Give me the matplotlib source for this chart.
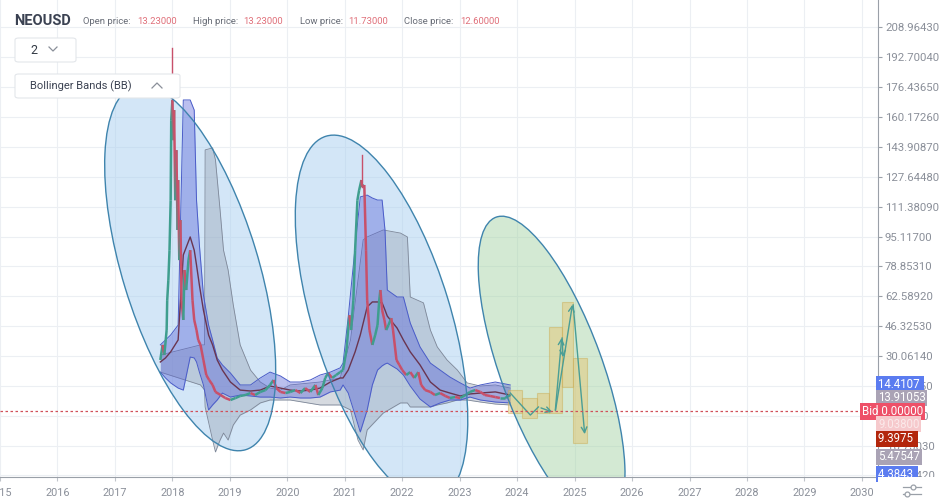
import matplotlib
matplotlib.use('Agg')
import matplotlib.pyplot as plt
from matplotlib.patches import Ellipse, Rectangle, FancyBboxPatch
from matplotlib.collections import LineCollection
from matplotlib.transforms import ScaledTranslation, blended_transform_factory
from matplotlib.lines import Line2D

plt.rcParams['font.family'] = ['Roboto', 'DejaVu Sans']

# --- price history (fractional year, close) ---
dates = [2017.79, 2017.83, 2017.86, 2017.90, 2017.91, 2017.93, 2017.95, 2017.97, 2017.98, 2018.00,
         2018.02, 2018.03, 2018.05, 2018.07, 2018.09, 2018.10, 2018.12, 2018.14, 2018.16, 2018.19,
         2018.21, 2018.24, 2018.28, 2018.31, 2018.35, 2018.38, 2018.42, 2018.45, 2018.49, 2018.54,
         2018.59, 2018.64, 2018.70, 2018.75, 2018.84, 2018.92, 2019.01, 2019.10, 2019.18, 2019.27,
         2019.36, 2019.44, 2019.53, 2019.62, 2019.70, 2019.76, 2019.81, 2019.88, 2019.97, 2020.05,
         2020.14, 2020.23, 2020.31, 2020.40, 2020.49, 2020.54, 2020.61, 2020.66, 2020.71, 2020.78,
         2020.85, 2020.92, 2020.97, 2021.03, 2021.08, 2021.11, 2021.15, 2021.18, 2021.22, 2021.25,
         2021.29, 2021.30, 2021.34, 2021.37, 2021.39, 2021.43, 2021.48, 2021.53, 2021.57, 2021.60,
         2021.62, 2021.65, 2021.69, 2021.72, 2021.76, 2021.81, 2021.84, 2021.90, 2021.95, 2022.00,
         2022.07, 2022.14, 2022.21, 2022.28, 2022.33, 2022.40, 2022.49, 2022.57, 2022.66, 2022.75,
         2022.83, 2022.92, 2023.01, 2023.10, 2023.18, 2023.27, 2023.36, 2023.44, 2023.53, 2023.62,
         2023.70, 2023.79, 2023.88]
close = [27.9, 36.1, 30.6, 44.2, 60.5, 71.4, 87.7, 114.9, 158.5, 169.4,
         147.6, 164.0, 114.9, 142.2, 98.7, 125.9, 82.3, 104.1, 60.5, 49.7,
         76.9, 66.0, 82.3, 87.7, 60.5, 49.7, 44.2, 38.8, 36.1, 27.9,
         19.7, 17.0, 14.3, 10.5, 8.8, 7.2, 6.1, 7.2, 8.3, 8.8,
         9.9, 8.8, 10.5, 11.5, 14.3, 17.0, 12.6, 10.5, 9.9, 10.5,
         11.5, 9.9, 12.6, 10.5, 14.3, 8.8, 12.6, 18.1, 20.8, 18.1,
         19.7, 21.3, 22.4, 33.3, 52.3, 44.2, 60.5, 87.7, 114.9, 120.4,
         125.9, 122.0, 123.2, 87.7, 60.5, 44.2, 36.1, 41.5, 46.9, 60.5,
         66.0, 55.1, 49.7, 44.2, 46.9, 50.7, 44.2, 27.9, 25.2, 22.4,
         19.7, 21.3, 18.1, 21.3, 14.3, 11.5, 10.5, 8.8, 9.9, 8.3,
         7.2, 7.7, 7.2, 8.8, 10.5, 11.5, 10.5, 8.8, 8.3, 7.7,
         7.2, 7.2, 8.8]
wick_dates = [2018.00, 2021.30]
wick_highs = [197.8, 139.5]

# --- Bollinger bands (blue) ---
bb_dates = [2017.79, 2017.88, 2017.97, 2018.10, 2018.19, 2018.31, 2018.38, 2018.42, 2018.47, 2018.54,
            2018.63, 2018.70, 2018.78, 2018.87, 2019.01, 2019.18, 2019.36, 2019.53, 2019.70, 2019.88,
            2020.05, 2020.23, 2020.40, 2020.57, 2020.75, 2020.92, 2020.97, 2021.06, 2021.18, 2021.27,
            2021.39, 2021.48, 2021.57, 2021.65, 2021.70, 2021.74, 2021.91, 2022.02, 2022.14, 2022.31,
            2022.49, 2022.66, 2022.83, 2023.01, 2023.18, 2023.36, 2023.62, 2023.88]
bb_upper = [36.1, 38.8, 41.5, 46.9, 169.5, 169.5, 164.0, 115.0, 90.5, 63.3,
            46.9, 38.8, 29.0, 25.2, 20.8, 14.3, 14.3, 18.1, 21.3, 19.2,
            15.9, 15.9, 17.0, 19.7, 21.3, 23.6, 26.2, 51.3, 89.4, 116.7,
            117.7, 116.1, 115.0, 115.0, 98.7, 66.0, 62.2, 62.2, 48.0, 35.0,
            26.2, 22.4, 18.6, 15.4, 12.6, 14.3, 15.9, 14.3]
bb_mid = [26.8, 29.0, 32.3, 38.8, 85.1, 94.9, 87.7, 79.6, 68.7, 55.1,
          41.5, 36.1, 27.9, 22.4, 15.9, 11.5, 11.0, 11.5, 13.7, 12.6,
          11.5, 11.0, 11.5, 12.6, 15.9, 18.1, 18.1, 22.4, 32.3, 41.5,
          56.8, 59.5, 59.5, 59.0, 55.1, 51.8, 45.3, 38.8, 32.3, 25.2,
          15.9, 11.5, 9.9, 8.3, 9.4, 9.9, 10.5, 8.8]
bb_lower = [21.3, 18.1, 15.4, 12.6, 11.5, 29.5, 29.0, 26.8, 21.3, 14.3,
            0.7, 3.4, 6.1, 9.9, 7.7, 8.8, 8.3, 7.7, 7.7, 7.2,
            7.7, 7.2, 7.2, 7.7, 10.5, 11.5, 14.3, 9.9, -2.1, -11.3,
            0.7, 14.3, 22.4, 24.7, 25.7, 26.2, 23.0, 19.7, 13.7, 6.6,
            2.3, 4.5, 6.1, 6.1, 7.7, 6.1, 5.0, 4.5]

# --- second band (grey) ---
gb_dates = [2017.79, 2018.49, 2018.56, 2018.57, 2018.70, 2018.75, 2018.83, 2018.89, 2018.97, 2019.06,
            2019.18, 2019.36, 2019.53, 2019.70, 2019.88, 2020.05, 2020.57, 2020.92, 2021.10, 2021.23,
            2021.32, 2021.39, 2021.67, 2021.97, 2022.09, 2022.14, 2022.37, 2022.49, 2022.61, 2022.78,
            2022.96, 2023.13, 2023.36, 2023.62, 2023.88]
gb_upper = [30.6, 36.1, 36.1, 142.3, 143.4, 136.8, 109.6, 87.7, 76.9, 57.8,
            36.1, 22.4, 15.9, 12.6, 11.5, 14.3, 15.9, 18.1, 38.8, 71.4,
            93.3, 94.9, 98.7, 97.0, 94.9, 62.2, 59.0, 44.2, 35.0, 27.9,
            22.4, 15.4, 13.7, 14.3, 12.6]
gb_lower = [21.3, 14.3, 11.5, 2.3, -15.7, -22.2, -15.7, -11.9, -15.7, -7.5,
            -2.1, 0.7, 4.5, 6.1, 6.1, 6.1, 3.4, 3.4, 0.7, -15.7,
            -21.1, -10.2, -1.0, 4.5, 4.5, 2.3, 2.3, 2.3, 3.4, 4.5,
            6.1, 6.1, 5.0, 3.9, 3.4]

# --- forecast boxes and arrows ---
fc_left = [2023.84, 2024.09, 2024.35, 2024.56, 2024.78, 2024.97]
fc_right = [2024.09, 2024.35, 2024.56, 2024.78, 2024.97, 2025.22]
fc_top = [11.5, 7.2, 9.9, 45.9, 59.5, 29.0]
fc_bottom = [-1.0, -3.7, -1.0, -1.0, 13.2, -17.3]
path_years = [2023.88, 2024.23, 2024.37, 2024.66]
path_prices = [9.9, -2.1, 2.3, -1.0]
arrows = [((2024.66, -1.0), (2024.78, 41.5)),
          ((2024.78, 41.5), (2024.80, 27.9)),
          ((2024.66, -1.0), (2024.97, 59.5)),
          ((2024.97, 59.5), (2025.18, -14.0))]

# --- annotation ellipses: centre (year, price), size in inches, angle ---
ell_years = [2018.31, 2021.64, 2024.60]
ell_prices = [78.0, 50.8, 22.5]
ell_w = [1.36, 1.38, 1.02]
ell_h = [3.80, 3.80, 3.25]
ell_angle = [17, 17, 20]
ell_face = ['#a9cff0', '#a9cff0', '#a8d5a8']

years = list(range(2015, 2031))
y_ticks = [208.9643, 192.7004, 176.4365, 160.1726, 143.9087, 127.6448, 111.3809, 95.1170,
           78.8531, 62.5892, 46.3253, 30.0614, 13.7975, -2.4664, -18.7303, -34.9942]

price_tags = ['14.4107 ', '13.91053', 'Bid 0.00000', '9.03800', '9.3975 ', '5.47547', '4.3843 ']
price_tag_y = [14.5, 7.2, -0.2, -7.0, -15.1, -24.9, -34.2]
price_tag_bg = ['#5b7cf0', '#aaa3b5', '#ee5068', '#f6c9cc', '#b3260c', '#aaa3b5', '#5b7cf0']
price_tag_fg = ['white', 'white', 'white', '#fbe9ea', 'white', 'white', 'white']

W, H = 946, 503
fig = plt.figure(figsize=(W / 100, H / 100), dpi=100)
ax = fig.add_axes([0, 26 / H, 878 / W, 477 / H])
ax.set_xlim(2015.01, 2030.28)
ax.set_ylim(-35.83, 223.94)

# grid
for yr in years:
    ax.axvline(yr, color='#eceff3', lw=0.8, zorder=0.5)
for yt in y_ticks:
    ax.axhline(yt, color='#eceff3', lw=0.8, zorder=0.5)

# ellipses (fill underneath, outline on top)
for cx, cy, w, h, a, fc in zip(ell_years, ell_prices, ell_w, ell_h, ell_angle, ell_face):
    tr = fig.dpi_scale_trans + ScaledTranslation(cx, cy, ax.transData)
    ax.add_patch(Ellipse((0, 0), w, h, angle=a, transform=tr, facecolor=fc,
                         alpha=0.5, edgecolor='none', zorder=1))
    ax.add_patch(Ellipse((0, 0), w, h, angle=a, transform=tr, facecolor='none',
                         edgecolor='#3f84ad', lw=1.0, zorder=6))

# grey band
ax.fill_between(gb_dates, gb_lower, gb_upper, color='#8c96a8', alpha=0.35, lw=0, zorder=2)
ax.plot(gb_dates, gb_upper, color='#7d8798', lw=0.6, zorder=2.2)
ax.plot(gb_dates, gb_lower, color='#7d8798', lw=0.6, zorder=2.2)

# blue bollinger band
ax.fill_between(bb_dates, bb_lower, bb_upper, color='#5560d8', alpha=0.4, lw=0, zorder=2.5)
ax.plot(bb_dates, bb_upper, color='#4a5cc8', lw=0.7, zorder=2.6)
ax.plot(bb_dates, bb_lower, color='#4a5cc8', lw=0.7, zorder=2.6)
ax.plot(bb_dates, bb_mid, color='#6a3550', lw=1.0, zorder=3)

# price, coloured by direction
segs, cols = [], []
for i in range(len(dates) - 1):
    segs.append([(dates[i], close[i]), (dates[i + 1], close[i + 1])])
    cols.append('#3f9e8e' if close[i + 1] >= close[i] else '#c8506a')
ax.add_collection(LineCollection(segs, colors=cols, linewidths=1.8, zorder=4))
for d, hi in zip(wick_dates, wick_highs):
    ax.plot([d, d], [close[dates.index(d)], hi], color='#c8506a', lw=1.0, zorder=4)

# forecast
for l, r, t, b in zip(fc_left, fc_right, fc_top, fc_bottom):
    ax.add_patch(Rectangle((l, b), r - l, t - b, facecolor='#e6c36a', alpha=0.45,
                           edgecolor='#c9a94f', lw=0.8, zorder=3.5))
ax.plot(path_years[:-1], path_prices[:-1], color='#4a9e96', lw=1.0, zorder=5)
ax.annotate('', xy=(path_years[-1], path_prices[-1]), xytext=(path_years[-2], path_prices[-2]),
            arrowprops=dict(arrowstyle='->', color='#4a9e96', lw=1.0), zorder=5)
for start, end in arrows:
    ax.annotate('', xy=end, xytext=start,
                arrowprops=dict(arrowstyle='->', color='#4a9e96', lw=1.0), zorder=5)

# bid line
ax.axhline(0, color='#d0505a', lw=0.9, ls=(0, (2, 2)), zorder=5)

# axes styling
for s in ['top', 'left']:
    ax.spines[s].set_visible(False)
ax.spines['right'].set_color('#9aa0a8')
ax.spines['bottom'].set_color('#9aa0a8')
ax.yaxis.tick_right()
ax.set_yticks(y_ticks)
ax.set_yticklabels([f'{v:.5f}' for v in y_ticks])
ax.set_xticks(years)
ax.set_xticklabels([str(y) for y in years])
ax.tick_params(axis='y', colors='#9aa0a8', labelcolor='#8a8f99', labelsize=8.2, length=3, pad=2)
ax.tick_params(axis='x', colors='#c0c4ca', labelcolor='#8a8f99', labelsize=7.8, length=3, pad=5)

# price tags on the right axis
bt = blended_transform_factory(ax.transAxes, ax.transData)
for txt, yv, bg, fg in zip(price_tags, price_tag_y, price_tag_bg, price_tag_fg):
    xpos = 862 / 878 if txt.startswith('Bid') else 1.0
    ax.text(xpos, yv, txt, transform=bt, ha='left', va='center', fontsize=8.3, color=fg,
            bbox=dict(boxstyle='square,pad=0.15', fc=bg, ec='none'), clip_on=False, zorder=8)

# bottom-right strip and settings icon
fig.add_artist(Rectangle((878 / W, 0), 68 / W, 26 / H, transform=fig.transFigure,
                         facecolor='white', edgecolor='none', zorder=10))
for yy, xc in [(487, 913), (494, 907)]:
    fig.add_artist(Line2D([903 / W, 921 / W], [1 - yy / H, 1 - yy / H], transform=fig.transFigure,
                          color='#9aa0a8', lw=0.9, zorder=11))
    fig.add_artist(Line2D([xc / W], [1 - yy / H], transform=fig.transFigure, marker='o', ms=3.5,
                          mfc='white', mec='#9aa0a8', mew=0.9, zorder=12))

# header
fig.text(14 / W, 1 - 21 / H, 'NEOUSD', fontsize=10.5, fontweight='bold', color='#3b4252', va='center')
hdr = [('Open price:', 83, '13.23000', 137), ('High price:', 193, '13.23000', 243),
       ('Low price:', 300, '11.73000', 348), ('Close price:', 404, '12.60000', 460)]
for lab, lx, val, vx in hdr:
    fig.text(lx / W, 1 - 21 / H, lab, fontsize=6.8, color='#666b75', va='center')
    fig.text(vx / W, 1 - 21 / H, val, fontsize=6.8, color='#e0707a', va='center')

# dropdown boxes
for x0, y0, x1, y1 in [(15, 38, 76, 62), (15, 74, 180, 98)]:
    fig.add_artist(FancyBboxPatch((x0 / W, 1 - y1 / H), (x1 - x0) / W, (y1 - y0) / H,
                                  boxstyle='round,pad=0,rounding_size=0.004', transform=fig.transFigure,
                                  facecolor='white', edgecolor='#e3e6ea', lw=0.8, zorder=10))
fig.text(30 / W, 1 - 50 / H, '2', fontsize=9, color='#333a45', va='center', zorder=11)
fig.text(30 / W, 1 - 86 / H, 'Bollinger Bands (BB)', fontsize=8, color='#3b4252', va='center', zorder=11)
fig.add_artist(Line2D([49 / W, 53 / W, 57 / W], [1 - 47 / H, 1 - 51 / H, 1 - 47 / H],
                      transform=fig.transFigure, color='#8a8f99', lw=0.9, zorder=11))
fig.add_artist(Line2D([152 / W, 157 / W, 162 / W], [1 - 88 / H, 1 - 83 / H, 1 - 88 / H],
                      transform=fig.transFigure, color='#8a8f99', lw=0.9, zorder=11))

fig.savefig('out.png', dpi=100)
